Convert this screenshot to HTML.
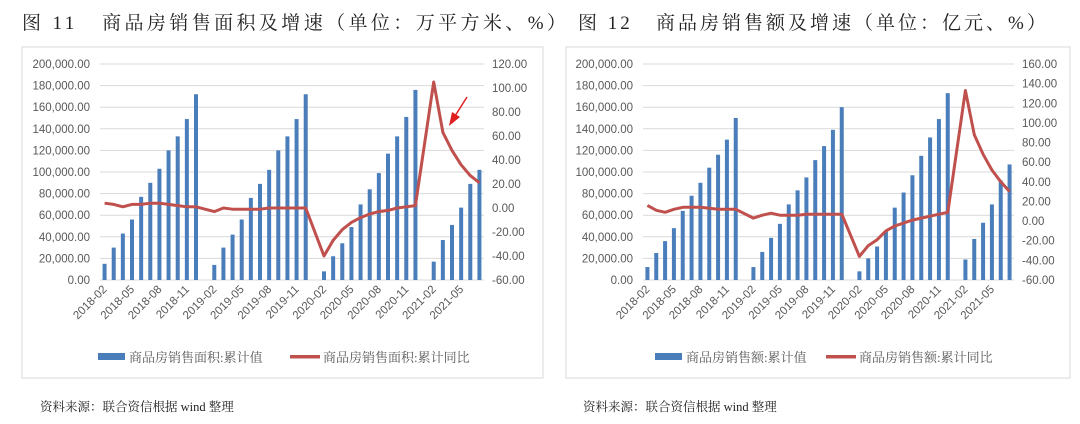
<!DOCTYPE html>
<html><head><meta charset="utf-8"><style>
body{margin:0;background:#fff;width:1080px;height:424px;overflow:hidden;position:relative;font-family:"Liberation Serif","Noto Serif CJK SC",serif}
.t{position:absolute;top:8px;font-size:19px;color:#222;white-space:nowrap;letter-spacing:3.4px}
.f{position:absolute;top:397px;font-size:12.5px;color:#222;white-space:nowrap}
svg{position:absolute;left:0;top:0}
</style></head><body>
<div class="t" style="left:22px">图 11&nbsp;&nbsp; 商品房销售面积及增速（单位：万平方米、%）</div>
<div class="t" style="left:578px;letter-spacing:3px">图 12&nbsp;&nbsp; 商品房销售额及增速（单位：亿元、%）</div>
<div class="f" style="left:40px">资料来源：联合资信根据 wind 整理</div>
<div class="f" style="left:583px">资料来源：联合资信根据 wind 整理</div>
<svg id="s" width="1080" height="424" xmlns="http://www.w3.org/2000/svg"></svg>
<script>
var S=document.getElementById('s'),h='';
function expand(a){var r=[];for(var i=0;i<a.length;i++){r.push(a[i]);if(i==10||i==21||i==32)r.push(null);}return r;}
function chart(o){
 var B=expand(o.b),L=expand(o.l);
 h+='<rect x="'+o.fx+'" y="47" width="'+o.fw+'" height="331" fill="none" stroke="#d9d9d9"/>';
 var x0=o.x0,x1=o.x1,yt=64,yb=280,n=42,w=(x1-x0)/n;
 for(var i=0;i<=10;i++){var y=yb-(yb-yt)*i/10;
  h+='<line x1="'+x0+'" x2="'+x1+'" y1="'+y+'" y2="'+y+'" stroke="#d9d9d9"/>';
  var v=(i*20000).toLocaleString('en-US')+'.00';
  h+='<text x="'+(x0-10)+'" y="'+(y+4)+'" text-anchor="end" font-size="11.5" fill="#595959" font-family="Liberation Sans">'+v+'</text>';}
 var rn=(o.rmax-o.rmin)/20;
 for(var i=0;i<=rn;i++){var y=yb-(yb-yt)*i/rn;
  h+='<text x="'+(x1+8)+'" y="'+(y+4)+'" font-size="11.5" fill="#595959" font-family="Liberation Sans">'+(o.rmin+20*i).toFixed(2)+'</text>';}
 var lab=['2018-02','2018-05','2018-08','2018-11','2019-02','2019-05','2019-08','2019-11','2020-02','2020-05','2020-08','2020-11','2021-02','2021-05'];
 for(var i=0;i<n;i++){if(B[i]==null)continue;var cx=x0+w*(i+.5),bh=B[i]*1000/200000*(yb-yt);
  h+='<rect x="'+(cx-2)+'" y="'+(yb-bh)+'" width="4" height="'+bh+'" fill="#4a7ebb"/>';}
 for(var k=0;k<14;k++){var tx=x0+w*(k*3+.5)+3,ty=yb+10;
  h+='<text transform="translate('+tx+','+ty+') rotate(-45)" text-anchor="end" font-size="11.5" fill="#595959" font-family="Liberation Sans">'+lab[k]+'</text>';}
 var p='',f=0;for(var i=0;i<n;i++){if(L[i]==null)continue;var cx=x0+w*(i+.5),y=yb-(L[i]-o.rmin)/(o.rmax-o.rmin)*(yb-yt);p+=(f++?'L':'M')+cx.toFixed(1)+','+y.toFixed(1);}
 h+='<path d="'+p+'" fill="none" stroke="#c0504d" stroke-width="3" stroke-linejoin="round"/>';
 h+='<rect x="'+o.lg1+'" y="353" width="27" height="7" fill="#4a7ebb"/><text x="'+(o.lg1+31)+'" y="362" font-size="13" fill="#595959" font-family="Liberation Serif,Noto Serif CJK SC,serif">'+o.t1+'</text>';
 h+='<rect x="'+o.lg2+'" y="355" width="30" height="3.5" fill="#c0504d"/><text x="'+(o.lg2+33)+'" y="362" font-size="13" fill="#595959" font-family="Liberation Serif,Noto Serif CJK SC,serif">'+o.t2+'</text>';
}
chart({fx:22,fw:521,x0:100,x1:484,rmin:-60,rmax:120,lg1:98,lg2:290,t1:'商品房销售面积:累计值',t2:'商品房销售面积:累计同比',
b:[15,30,43,56,77,90,103,120,133,149,172,14,30,42,56,76,89,102,120,133,149,172,8,22,34,49,70,84,99,117,133,151,176,17,37,51,67,89,102],
l:[4,3,1,3,3,4,4,3,2,1,1,-3,0,-1,-1,-1,-1,0,0,0,0,0,-40,-27,-18,-12,-8,-5,-3,-2,0,1,2,105,63,48,36,27,21]});
chart({fx:566,fw:504,x0:643,x1:1014,rmin:-60,rmax:160,lg1:655,lg2:826,t1:'商品房销售额:累计值',t2:'商品房销售额:累计同比',
b:[12,25,36,48,64,78,90,104,116,130,150,12,26,39,52,70,83,95,111,124,139,160,8,20,31,45,67,81,97,115,132,149,173,19,38,53,70,92,107],
l:[16,11,9,12,14,14,14,13,12,12,12,3,6,8,6,6,6,7,7,7,7,7,-36,-25,-19,-10,-5,-2,1,3,5,7,9,133,88,68,52,40,30]});
h+='<line x1="467" y1="97" x2="455" y2="116" stroke="#e02020" stroke-width="1.5"/><polygon points="449,126 452,112 460,117" fill="#e02020"/>';
S.innerHTML=h;
</script>
</body></html>
